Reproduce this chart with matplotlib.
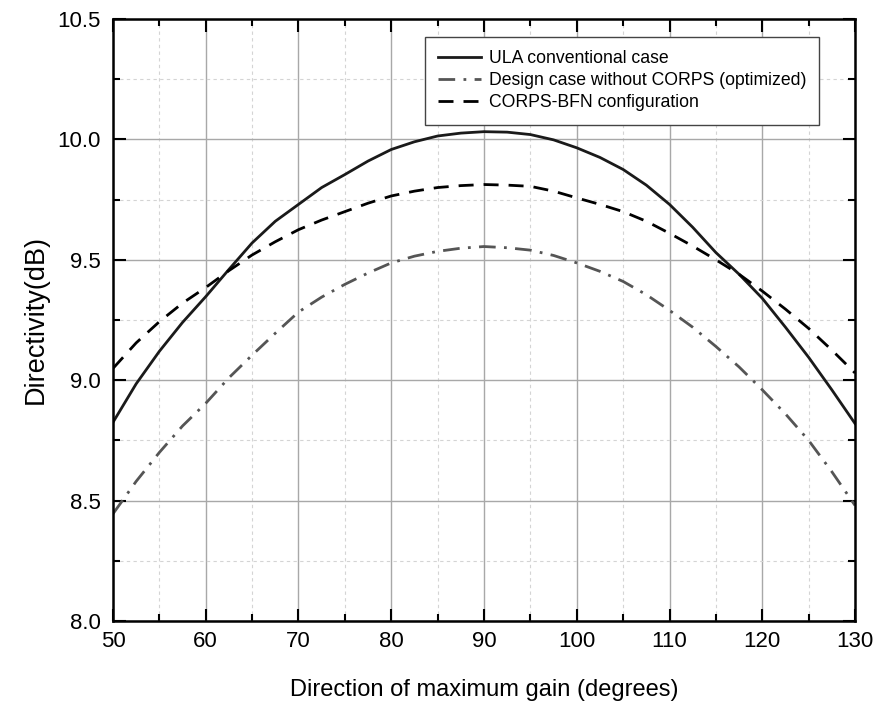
import numpy as np
import matplotlib
matplotlib.use("Agg")
import matplotlib.pyplot as plt
from matplotlib.ticker import MultipleLocator, FormatStrFormatter

# direccion de maxima ganancia (grados)
angulo = [50, 52.5, 55, 57.5, 60, 62.5, 65, 67.5, 70, 72.5, 75, 77.5, 80, 82.5, 85, 87.5, 90,
          92.5, 95, 97.5, 100, 102.5, 105, 107.5, 110, 112.5, 115, 117.5, 120, 122.5, 125, 127.5, 130]

ula = [8.825, 8.985, 9.12, 9.24, 9.347, 9.46, 9.57, 9.66, 9.73, 9.80, 9.854, 9.91, 9.958, 9.99, 10.014, 10.026, 10.032,
       10.03, 10.02, 9.998, 9.965, 9.925, 9.875, 9.81, 9.73, 9.635, 9.53, 9.44, 9.34, 9.22, 9.095, 8.96, 8.82]
sin_corps = [8.445, 8.58, 8.70, 8.81, 8.904, 9.01, 9.104, 9.195, 9.283, 9.345, 9.398, 9.445, 9.487, 9.515, 9.535, 9.548, 9.555,
             9.55, 9.54, 9.518, 9.487, 9.452, 9.41, 9.355, 9.29, 9.22, 9.14, 9.055, 8.96, 8.86, 8.75, 8.62, 8.48]
corps_bfn = [9.049, 9.155, 9.243, 9.32, 9.385, 9.455, 9.52, 9.575, 9.625, 9.665, 9.70, 9.735, 9.765, 9.785, 9.80, 9.808, 9.8125,
             9.81, 9.805, 9.785, 9.757, 9.73, 9.70, 9.66, 9.61, 9.557, 9.50, 9.44, 9.37, 9.295, 9.215, 9.125, 9.03]

etiquetas = ["ULA conventional case",
             "Design case without CORPS (optimized)",
             "CORPS-BFN configuration"]

plt.rcParams["font.family"] = "Liberation Sans"

fig = plt.figure(figsize=(8.8, 7.08), dpi=100)
ax = fig.add_axes([0.1284, 0.1229, 0.8432, 0.8503])

ax.plot(angulo, ula, color="#1a1a1a", lw=2.0, label=etiquetas[0])
ax.plot(angulo, sin_corps, color="#555555", lw=2.0, dashes=(6, 3, 1, 3), label=etiquetas[1])
ax.plot(angulo, corps_bfn, color="black", lw=2.0, dashes=(5.4, 3.6), label=etiquetas[2])

ax.set_xlim(50, 130)
ax.set_ylim(8.0, 10.5)
ax.xaxis.set_major_locator(MultipleLocator(10))
ax.xaxis.set_minor_locator(MultipleLocator(5))
ax.yaxis.set_major_locator(MultipleLocator(0.5))
ax.yaxis.set_minor_locator(MultipleLocator(0.25))
ax.yaxis.set_major_formatter(FormatStrFormatter("%.1f"))

ax.grid(which="major", color="#a8a8a8", lw=1.0, ls="-")
ax.grid(which="minor", color="#d4d4d4", lw=0.8, ls=(0, (3, 3)))
ax.set_axisbelow(True)

ax.tick_params(which="both", direction="in", top=True, right=True, width=1.5)
ax.tick_params(which="major", length=9)
ax.tick_params(which="minor", length=5)
ax.tick_params(axis="y", which="major", labelsize=16, pad=9)
ax.tick_params(axis="x", which="major", labelsize=16, pad=7)
for s in ax.spines.values():
    s.set_linewidth(1.8)

ax.set_xlabel("Direction of maximum gain (degrees)", fontsize=17, labelpad=20)
ax.set_ylabel("Directivity(dB)", fontsize=19.5, labelpad=6)

leg = ax.legend(loc="upper left", bbox_to_anchor=(0.4205, 0.9706), borderaxespad=0,
                fontsize=12.7, handlelength=2.4, handletextpad=0.45, labelspacing=0.3,
                borderpad=0.75, fancybox=False, edgecolor="#444444", framealpha=1)
leg.get_frame().set_linewidth(1.0)

plt.savefig("out.png", dpi=100)
plt.close()
